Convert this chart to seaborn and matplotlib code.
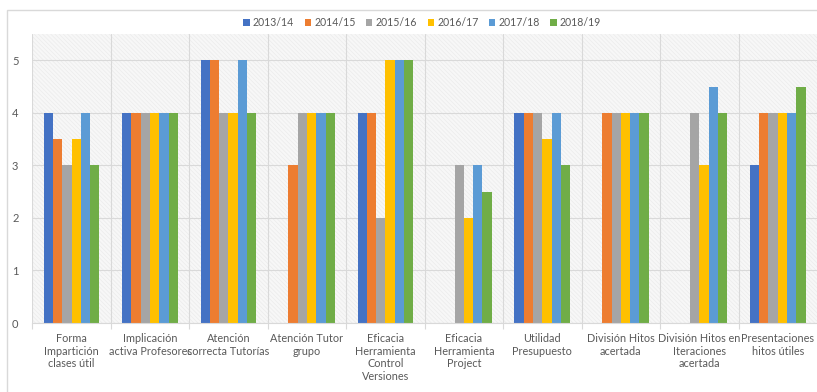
import numpy as np
import pandas as pd
import matplotlib
matplotlib.use("Agg")
import matplotlib.pyplot as plt
from matplotlib.patches import Rectangle
import seaborn as sns

categories = [
    "Forma\nImpartición\nclases útil",
    "Implicación\nactiva Profesores",
    "Atención\ncorrecta Tutorías",
    "Atención Tutor\ngrupo",
    "Eficacia\nHerramienta\nControl\nVersiones",
    "Eficacia\nHerramienta\nProject",
    "Utilidad\nPresupuesto",
    "División Hitos\nacertada",
    "División Hitos en\nIteraciones\nacertada",
    "Presentaciones\nhitos útiles",
]
years = ["2013/14", "2014/15", "2015/16", "2016/17", "2017/18", "2018/19"]
nan = np.nan
v_2013 = [4, 4, 5, nan, 4, nan, 4, nan, nan, 3]
v_2014 = [3.5, 4, 5, 3, 4, nan, 4, 4, nan, 4]
v_2015 = [3, 4, 4, 4, 2, 3, 4, 4, 4, 4]
v_2016 = [3.5, 4, 4, 4, 5, 2, 3.5, 4, 3, 4]
v_2017 = [4, 4, 5, 4, 5, 3, 4, 4, 4.5, 4]
v_2018 = [3, 4, 4, 4, 5, 2.5, 3, 4, 4, 4.5]
series = [v_2013, v_2014, v_2015, v_2016, v_2017, v_2018]
colors = ["#4472C4", "#ED7D31", "#A5A5A5", "#FFC000", "#5B9BD5", "#70AD47"]
yticks = [0, 1, 2, 3, 4, 5]

rows = []
for y, vals in zip(years, series):
    for c, v in zip(categories, vals):
        rows.append({"cat": c, "year": y, "val": v})
df = pd.DataFrame(rows)

sns.set_style("white")
plt.rcParams['font.family'] = ['Lato', 'DejaVu Sans']
plt.rcParams['hatch.linewidth'] = 0.5
grey = "#595959"
gridc = "#d9d9d9"

fig = plt.figure(figsize=(8.17, 3.92), dpi=100)
ax = fig.add_axes([32.3 / 817, 1 - 323 / 392, 1 - 32.3 / 817, (323 - 34) / 392])

ax.add_patch(Rectangle((0, 0), 1, 1, transform=ax.transAxes, facecolor="#f7f7f7",
                       hatch="\\" * 8, edgecolor="#ebebeb", linewidth=0, zorder=0.1))

sns.barplot(data=df, x="cat", y="val", hue="year", order=categories, hue_order=years,
            palette=colors, width=0.71, gap=0, errorbar=None, linewidth=0,
            saturation=1, ax=ax, zorder=2)

ax.set_xlim(-0.5, len(categories) - 0.5)
ax.set_ylim(0, 5.5)
ax.set_yticks(yticks)
ax.set_xlabel("")
ax.set_ylabel("")
ax.set_axisbelow(True)
ax.set_xticks(np.arange(len(categories)) - 0.5, minor=True)
ax.grid(axis="y", color=gridc, linewidth=0.8)
ax.grid(axis="x", which="minor", color=gridc, linewidth=0.8)
ax.tick_params(axis="x", which="major", length=0, pad=7, labelsize=7.8, labelcolor=grey)
ax.tick_params(axis="x", which="minor", length=4, width=0.8, color=gridc, bottom=True)
ax.tick_params(axis="y", length=0, pad=10, labelsize=8, labelcolor=grey)
for lbl in ax.get_xticklabels():
    lbl.set_linespacing(1.2)
for s in ["top", "right", "left"]:
    ax.spines[s].set_visible(False)
ax.spines["bottom"].set_color(gridc)
ax.spines["bottom"].set_linewidth(0.8)

leg = ax.legend(loc="center", bbox_to_anchor=(0.5 - 0.003, 1 + 11 / 289), ncol=6, frameon=False,
                fontsize=7.6, handlelength=0.6, handleheight=0.6, handletextpad=0.3,
                columnspacing=1.0, labelcolor=grey, borderaxespad=0)

fig.add_artist(Rectangle((7 / 817, -0.1), 1.2, 1.1 - 10 / 392, transform=fig.transFigure,
                         facecolor="none", edgecolor=gridc, linewidth=1))

fig.savefig("out.png", dpi=100)
